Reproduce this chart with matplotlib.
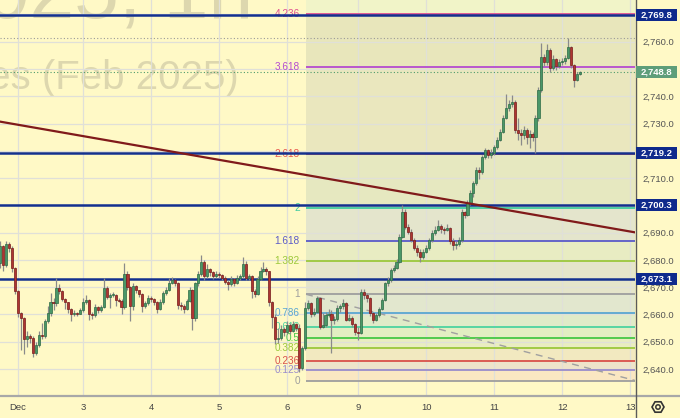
import numpy as np
import matplotlib
matplotlib.use('Agg')
import matplotlib.pyplot as plt
from matplotlib.patches import Rectangle, RegularPolygon, Circle
from matplotlib.lines import Line2D
from matplotlib.transforms import IdentityTransform, blended_transform_factory

plt.rcParams['font.family'] = ['Liberation Sans', 'DejaVu Sans']

BG = '#FFF9C6'

# hourly candles, Dec 1 evening .. Dec 12 morning (open = previous close)
first_open = 2679.0
closes = [2685, 2678, 2686, 2684.5, 2677, 2668.5, 2660.5, 2658.6, 2651, 2652,
          2651.4, 2646, 2648.8, 2652.6, 2652, 2657.5, 2660.5, 2664.7, 2664.2, 2669.8,
          2668.5, 2665.5, 2664.4, 2662, 2660, 2660.4, 2660.1, 2661.8, 2664.5, 2665.2,
          2660, 2659.8, 2662.8, 2661.8, 2662.8, 2669.6, 2666.4, 2667, 2667.3, 2665.4,
          2665, 2662.8, 2675, 2670, 2663, 2670.3, 2668.8, 2667.5, 2663, 2664.2,
          2666, 2665.5, 2664.5, 2662, 2664.7, 2667.8, 2669, 2671.4, 2672.5, 2671.5,
          2663.5, 2663, 2662, 2665, 2669, 2658.6, 2671.4, 2675, 2679.3, 2674,
          2676.5, 2675.5, 2674, 2675, 2674.5, 2673.5, 2672, 2671.3, 2673, 2671.5,
          2673.5, 2674, 2678.5, 2673.3, 2674, 2668.5, 2667.5, 2673, 2676, 2676.5,
          2676, 2664.5, 2659, 2651, 2651.5, 2654.5, 2653.5, 2656, 2654, 2656.5,
          2655, 2640.3, 2647.7, 2662.5, 2664.1, 2660, 2661, 2665.9, 2655.5, 2656.2,
          2659.8, 2660.2, 2658, 2658.5, 2662.2, 2663, 2664.1, 2658, 2658.8, 2656.5,
          2653.7, 2653.2, 2668.3, 2667, 2666, 2660.4, 2658, 2659.8, 2662, 2665.3,
          2671.4, 2672.6, 2676.3, 2677, 2679.3, 2688.5, 2697.7, 2692.2, 2690.3, 2687.3,
          2684.5, 2683, 2681.2, 2683, 2684.2, 2687.3, 2690, 2691, 2692.4, 2691.2,
          2691, 2691.6, 2687, 2685.5, 2685.8, 2687.3, 2697.5, 2696.5, 2701, 2704.5,
          2708.2, 2713, 2712.2, 2717.7, 2720.3, 2718.5, 2719.2, 2721.4, 2724, 2727,
          2732, 2735.6, 2737, 2738, 2727.6, 2726.4, 2725.8, 2727.6, 2725, 2726,
          2725, 2732, 2742.3, 2754.4, 2752.5, 2757, 2750.3, 2753.5, 2751, 2752.5,
          2752.8, 2754, 2758, 2751.4, 2746, 2748.3, 2748.8]
highs = [2687, 2685.5, 2687, 2686.5, 2685, 2677.5, 2669, 2661, 2659, 2654,
         2653, 2652, 2650, 2654, 2657, 2658.5, 2663, 2668, 2666, 2673.3,
         2671, 2669, 2666, 2664.6, 2662.5, 2661.5, 2661, 2662.5, 2666, 2667,
         2665.8, 2661, 2664, 2663.2, 2663.5, 2673.3, 2670.5, 2668, 2668.2, 2667.6,
         2666, 2665.6, 2679, 2676, 2670.5, 2671.5, 2670.8, 2669, 2668, 2665,
         2667, 2666.8, 2666, 2665, 2665.5, 2668.5, 2670, 2673.5, 2673.8, 2673,
         2672, 2664.5, 2663.8, 2665.8, 2670, 2669.5, 2672, 2676, 2681.8, 2680,
         2678.5, 2677, 2676, 2675.8, 2675.5, 2675, 2674, 2672.5, 2674, 2673.5,
         2674.5, 2675, 2681, 2679.5, 2675, 2674.5, 2669.5, 2674, 2677.5, 2679.3,
         2677.5, 2676, 2665, 2660, 2655, 2656, 2655.5, 2657.5, 2657, 2657.5,
         2657, 2656.5, 2648.5, 2664.6, 2665.3, 2664.5, 2662.5, 2666.8, 2666.5, 2660.5,
         2661, 2662, 2661.5, 2659.5, 2663.5, 2664, 2665.5, 2664.5, 2660, 2659.5,
         2657, 2655.5, 2669.2, 2669.5, 2668, 2666.5, 2661, 2660.5, 2662.8, 2666,
         2672, 2673.8, 2677, 2678, 2680.5, 2689.5, 2700.2, 2698.5, 2693, 2691.5,
         2688, 2685.5, 2684, 2684, 2685.5, 2688, 2691, 2692.5, 2694.5, 2693,
         2692, 2693, 2692, 2688, 2687, 2688.5, 2698.5, 2698, 2701.8, 2705.5,
         2709, 2714, 2714, 2718.5, 2721, 2720.8, 2720.5, 2722, 2725, 2728,
         2733, 2741, 2738.5, 2740.4, 2738.5, 2732, 2728, 2729, 2728.5, 2727.5,
         2727, 2733, 2743.5, 2759.5, 2755.5, 2759, 2757.8, 2755, 2754, 2753.5,
         2754, 2755, 2761.4, 2758.5, 2752, 2749, 2749.3]
lows = [2677, 2676, 2677.5, 2683, 2675.5, 2667.5, 2659, 2647, 2645.5, 2648,
        2649.5, 2644.5, 2645, 2648, 2651, 2651.5, 2657, 2659.5, 2661.5, 2663,
        2667.5, 2664.8, 2662, 2660.5, 2657.5, 2659.5, 2659.4, 2660, 2661, 2663.8,
        2658, 2658.5, 2659.2, 2660.5, 2661, 2662.2, 2665.6, 2662.5, 2666.3, 2663,
        2664.5, 2660, 2662, 2669, 2657.5, 2661.5, 2668, 2666.5, 2661, 2662.5,
        2663.5, 2664.5, 2663.5, 2660.5, 2661.5, 2664, 2667, 2668.5, 2671, 2670.5,
        2662, 2661.5, 2660.5, 2661.5, 2664.5, 2654.3, 2657.5, 2670.5, 2674, 2672.5,
        2673.5, 2674, 2673, 2673.5, 2673.5, 2672.5, 2671, 2669, 2670.5, 2670.5,
        2671, 2672.5, 2673.5, 2672.5, 2672.5, 2666, 2666.5, 2667, 2672.5, 2675.5,
        2674.5, 2663, 2655, 2649, 2649.5, 2650.5, 2652, 2653, 2653, 2653.5,
        2654, 2638.8, 2639.5, 2647, 2661.5, 2659, 2659.5, 2660.5, 2654.5, 2655,
        2655.5, 2659, 2645.8, 2656.5, 2657.5, 2661, 2662, 2657.5, 2657.5, 2655.5,
        2652.5, 2650.6, 2652.8, 2665.5, 2664.5, 2659.5, 2657, 2657.5, 2659, 2661.5,
        2665, 2670.5, 2672, 2675.5, 2676.5, 2679, 2688, 2691.5, 2689.5, 2686.5,
        2683.5, 2681.5, 2679.3, 2680.5, 2682.5, 2683.5, 2686.5, 2689, 2690.5, 2690,
        2689.5, 2690.5, 2686, 2683.5, 2684, 2685, 2686.5, 2695.5, 2696, 2700,
        2703, 2707.5, 2709.5, 2711.5, 2717, 2717.5, 2717.5, 2718.5, 2720.5, 2723.5,
        2726.5, 2731.5, 2734.5, 2736, 2726.5, 2724, 2722, 2724.5, 2722.5, 2721,
        2723.5, 2719.2, 2731, 2741.5, 2751, 2751.5, 2749, 2749.5, 2749.5, 2750.5,
        2751.5, 2752, 2753.5, 2750.5, 2743.4, 2745.5, 2747.8]

day_ticks = [6, 28, 51, 74, 97, 121, 144, 167, 190, 213]
day_labels = ['Dec', '3', '4', '5', '6', '9', '10', '11', '12', '13']

grid_prices = list(range(2640, 2771, 10))
# scale labels that are not hidden behind the price boxes
scale_prices = [2640, 2650, 2660, 2670, 2680, 2690, 2710, 2730, 2740, 2760]

key_levels = [2769.8, 2719.2, 2700.3, 2673.1]
last_price = 2748.8
high_line = 2761.25

# fibonacci extension
fib_zero = 2635.6
fib_one = 2667.4
fib_start = 103.4
fib_ratios = [0, 0.125, 0.236, 0.382, 0.5, 0.618, 0.786, 1, 1.382, 1.618, 2, 2.618, 3.618, 4.236]
fib_labels = ['0', '0.125', '0.236', '0.382', '0.5', '0.618', '0.786', '1', '1.382', '1.618', '2', '2.618', '3.618', '4.236']
fib_colors = ['#9E9E9E', '#9A8CCB', '#D9514A', '#9CC83C', '#45C845', '#4CD3A0', '#5AA6D2', '#9E9E9E',
              '#9CC83C', '#5A5AC8', '#3FCBA0', '#E8574C', '#B44BD0', '#E0508F']
fib_zone_colors = ['#FAE7C2', '#EEE4CA', '#F2E9C0', '#E9EDC0', '#E2EEC2', '#E0EBC8', '#E2E7CE',
                   '#E5E5CA', '#E8ECC2', '#E4E5CC', '#E6E8C0', '#EAE7BE', '#E8E6BB', '#F1F4C8']

trend_x = [-0.1, 214.65]
trend_y = [2730.7, 2690.1]
dash_x = [103.4, 214.65]
dash_y = [2667.4, 2635.8]

x_lo, x_hi = -0.1, 214.65
y_lo, y_hi = 2630.47, 2775.29

fig = plt.figure(figsize=(6.8, 4.18), dpi=100, facecolor=BG)
ax = fig.add_axes([0, 23 / 418, 635 / 680, 395 / 418])
ax.set_facecolor(BG)
ax.set_xlim(x_lo, x_hi)
ax.set_ylim(y_lo, y_hi)

# watermark
wm = '#DDD7AE'
ax.text(253 / 635, 1 - 18 / 395, 'GCG2025, 1h', transform=ax.transAxes, ha='right', va='baseline',
        fontsize=58, color=wm, zorder=0.5)
ax.text(239 / 635, 1 - 89 / 395, 'Gold Futures (Feb 2025)', transform=ax.transAxes, ha='right',
        va='baseline', fontsize=29, color=wm, zorder=0.5)

# fib zones
lv = [fib_zero + r * (fib_one - fib_zero) for r in fib_ratios]
bounds = lv + [y_hi]
for k in range(len(bounds) - 1):
    ax.fill_between([fib_start, x_hi], bounds[k], bounds[k + 1], color=fib_zone_colors[k], lw=0, zorder=0.6)

# grid
for t in day_ticks:
    ax.axvline(t, color='#E0E0D8', lw=0.9, zorder=1)
for p in grid_prices:
    ax.axhline(p, color='#E0E0D8', lw=0.9, zorder=1)

# fib lines + labels
ax.hlines(lv, fib_start, x_hi, colors=fib_colors, lw=1.3, zorder=2)
for v, lab, col in zip(lv, fib_labels, fib_colors):
    ax.text(101.3, v, lab, ha='right', va='center', fontsize=7.2, color=col, zorder=2.5)

# dotted lines
ax.axhline(high_line, color='#9A9A9A', lw=0.8, ls=(0, (1, 2)), zorder=2)
ax.axhline(last_price, color='#4E9B6C', lw=0.8, ls=(0, (1, 2)), zorder=2)

# key levels
for p in key_levels:
    ax.axhline(p, color='#13308F', lw=1.8, zorder=3)

ax.plot(dash_x, dash_y, color='#A0A0A0', lw=1, dashes=(5, 4), zorder=3)

# candles
c = np.array(closes, dtype=float)
o = np.concatenate([[first_open], c[:-1]])
h = np.maximum(np.array(highs, dtype=float), np.maximum(o, c))
l = np.minimum(np.array(lows, dtype=float), np.minimum(o, c))
x = np.arange(len(c))
up = c >= o
body_lo = np.minimum(o, c)
body_h = np.maximum(np.abs(c - o), 0.35)
face = np.where(up, '#4A9768', '#AE3532')
edge = np.where(up, '#2C6A45', '#761C1A')
ax.vlines(x, l, h, colors='#8A8A8A', lw=0.9, zorder=5)
ax.bar(x, body_h, bottom=body_lo, width=0.72, color=face, edgecolor=edge, linewidth=0.5, zorder=6)

ax.plot(trend_x, trend_y, color='#801A1A', lw=1.6, zorder=7)

# axes
for s in ax.spines.values():
    s.set_visible(False)
ax.yaxis.tick_right()
ax.set_yticks(scale_prices)
ax.set_yticklabels([f'{v:,.1f}' for v in scale_prices])
ax.tick_params(axis='y', length=0, pad=5.5, labelsize=6.8, labelcolor='#555555')
ax.set_xticks(day_ticks)
ax.set_xticklabels(day_labels)
ax.tick_params(axis='x', length=0, pad=6, labelsize=6.8, labelcolor='#444444')

fig.add_artist(Line2D([0, 1], [1 - 395.5 / 418] * 2, transform=fig.transFigure, color='#A8A8A8', lw=1.6))
fig.add_artist(Line2D([635.5 / 680] * 2, [0, 1], transform=fig.transFigure, color='#5A5A5A', lw=1))

# price boxes on the scale
tr = blended_transform_factory(fig.transFigure, ax.transData)
box_h = 12 / 2.7275
for p in key_levels + [last_price]:
    col = '#5E9E7A' if p == last_price else '#0F2A8C'
    fig.add_artist(Rectangle((636 / 680, p - box_h / 2), 41 / 680, box_h, transform=tr,
                             facecolor=col, edgecolor='none', zorder=10))
    fig.text(656.5 / 680, p, f'{p:,.1f}', transform=tr, ha='center', va='center',
             fontsize=6.8, color='white', fontweight='bold', zorder=11)

# settings icon
fig.add_artist(RegularPolygon((658, 11), 6, radius=6, orientation=np.pi / 6, transform=IdentityTransform(),
                              facecolor='none', edgecolor='#333333', lw=1.2))
fig.add_artist(Circle((658, 11), 2.2, transform=IdentityTransform(), facecolor='none',
                      edgecolor='#333333', lw=1.1))

fig.savefig('out.png', dpi=100, facecolor=BG)
